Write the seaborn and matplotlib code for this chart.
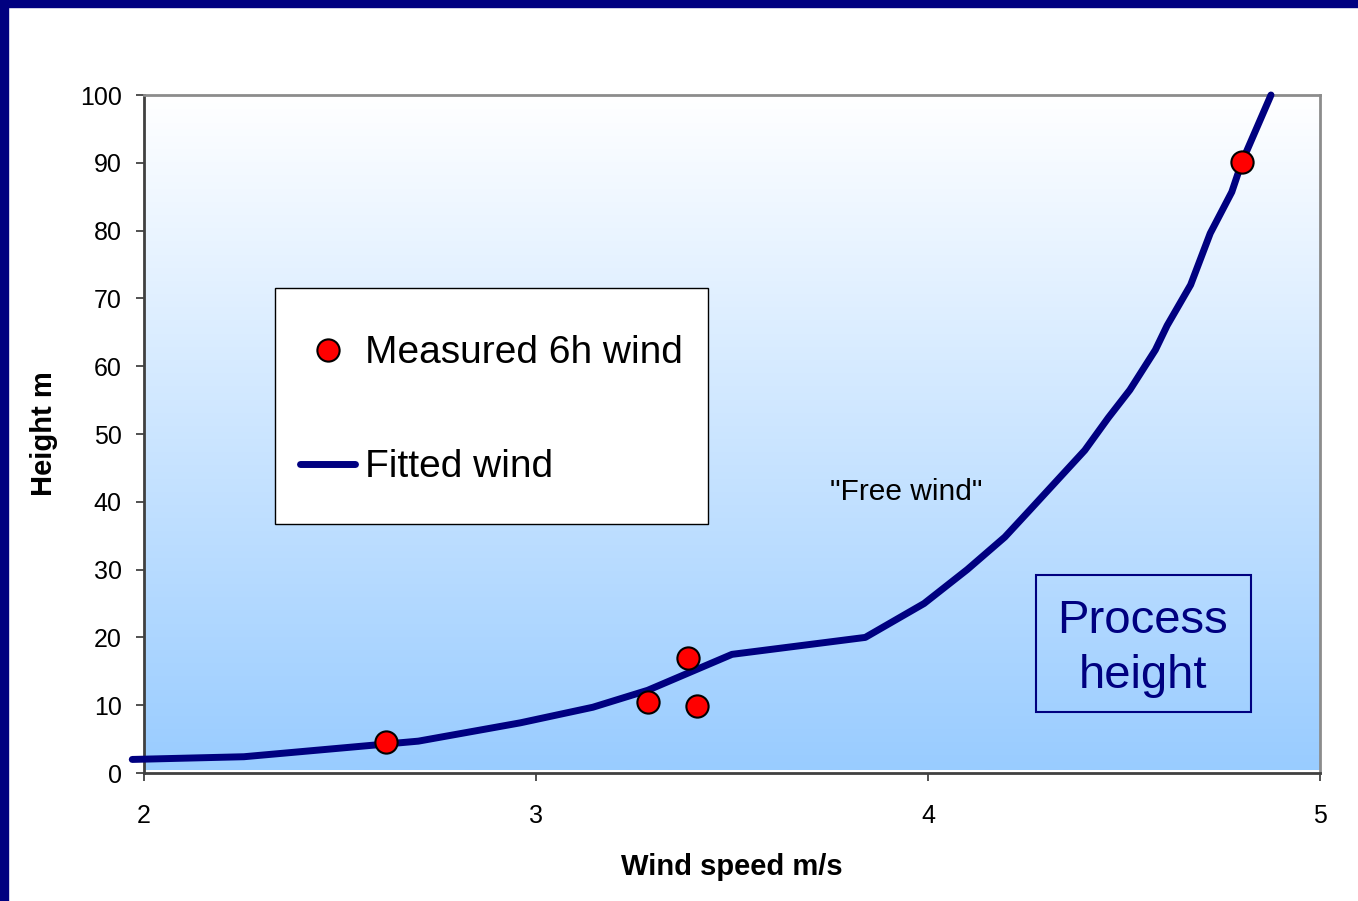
import numpy as np
import pandas as pd
import matplotlib.pyplot as plt
import seaborn as sns
from matplotlib.patches import Rectangle
from matplotlib.lines import Line2D

sns.set_style('white')
plt.rcParams['font.family'] = ['Liberation Sans', 'DejaVu Sans']
plt.rcParams['text.color'] = 'black'
plt.rcParams['axes.labelcolor'] = 'black'

# Fitted wind profile
fit_speed = [1.97, 2.255, 2.70, 2.96, 3.145, 3.285, 3.50, 3.84, 3.99, 4.10, 4.196,
             4.26, 4.33, 4.40, 4.46, 4.515, 4.58, 4.61, 4.67, 4.72, 4.775, 4.80, 4.875]
fit_height = [2.0, 2.4, 4.7, 7.4, 9.7, 12.2, 17.5, 20.0, 25.0, 30.0, 34.8,
              38.8, 43.2, 47.6, 52.4, 56.5, 62.4, 66.0, 72.0, 79.6, 85.7, 90.0, 100.0]

# Measured 6h wind
meas_speed = [2.617, 3.286, 3.388, 3.41, 4.80]
meas_height = [4.6, 10.5, 17.0, 9.9, 90.1]

navy = '#000080'

fig = plt.figure(figsize=(13.58, 9.01), dpi=100)
ax = fig.add_axes([0.10604, 0.14206, 0.86598, 0.7525])

# slide border (left and top)
fig.patches.append(Rectangle((0, 0), 8 / 1358, 1, transform=fig.transFigure,
                             color=navy, zorder=-5))
fig.patches.append(Rectangle((0, 1 - 7 / 901), 1, 7 / 901, transform=fig.transFigure,
                             color=navy, zorder=-5))

# gradient plot area: white at top -> light blue at bottom
grad = np.linspace(0, 1, 256).reshape(-1, 1)
top = np.array([1.0, 1.0, 1.0])
bot = np.array([153, 204, 255]) / 255
img = top + (bot - top) * grad[:, :, None]
ax.imshow(img, extent=[0, 1, 0.005, 1], transform=ax.transAxes,
          aspect='auto', origin='upper', zorder=0)

fit_df = pd.DataFrame({'speed': fit_speed, 'height': fit_height})
meas_df = pd.DataFrame({'speed': meas_speed, 'height': meas_height})

sns.lineplot(data=fit_df, x='speed', y='height', sort=False, color=navy,
             linewidth=5, ax=ax, zorder=3, legend=False)
ax.lines[-1].set_clip_on(False)
ax.lines[-1].set_solid_capstyle('round')
sns.scatterplot(data=meas_df, x='speed', y='height', color='red', edgecolor='black',
                linewidth=1.5, s=256, ax=ax, zorder=4, legend=False)

ax.set_xlim(2, 5)
ax.set_ylim(0, 100)
ax.set_xticks([2, 3, 4, 5])
ax.set_yticks(range(0, 101, 10))
ax.tick_params(axis='both', direction='out', length=6, width=1.2, colors='#333333',
               labelcolor='black', labelsize=18)
ax.tick_params(axis='x', pad=16)
ax.tick_params(axis='y', pad=10)
ax.tick_params(bottom=True, left=True)

for side in ['top', 'right']:
    ax.spines[side].set_color('#8c8c8c')
    ax.spines[side].set_linewidth(2)
for side in ['left', 'bottom']:
    ax.spines[side].set_color('#404040')
    ax.spines[side].set_linewidth(2)

ax.set_xlabel('Wind speed m/s', fontsize=21, fontweight='bold', labelpad=18)
ax.set_ylabel('Height m', fontsize=21, fontweight='bold', labelpad=16)

# legend box
ax.add_patch(Rectangle((0.111, 0.367), 0.369, 0.348, transform=ax.transAxes,
                       facecolor='white', edgecolor='black', linewidth=1, zorder=5))
handles = [Line2D([], [], marker='o', linestyle='none', markerfacecolor='red',
                  markeredgecolor='black', markeredgewidth=1.5, markersize=16),
           Line2D([], [], color=navy, linewidth=5, solid_capstyle='round')]
leg = ax.legend(handles, ['Measured 6h wind', 'Fitted wind'], loc='center',
                bbox_to_anchor=(0.111, 0.361, 0.369, 0.348), frameon=False,
                fontsize=28, handlelength=1.4, handletextpad=0.25, labelspacing=2.0)
leg.set_zorder(6)
for t in leg.get_texts():
    t.set_color('black')

ax.text(3.944, 41.4, '"Free wind"', fontsize=21.5, ha='center', va='center', zorder=5)

ax.add_patch(Rectangle((4.276, 9.0), 0.548, 20.2, facecolor='none', edgecolor=navy,
                       linewidth=1.5, zorder=5))
ax.text(4.548, 18.4, 'Process\nheight', fontsize=34, color=navy, ha='center',
        va='center', linespacing=1.32, zorder=5)

fig.savefig('out.png', dpi=100)
